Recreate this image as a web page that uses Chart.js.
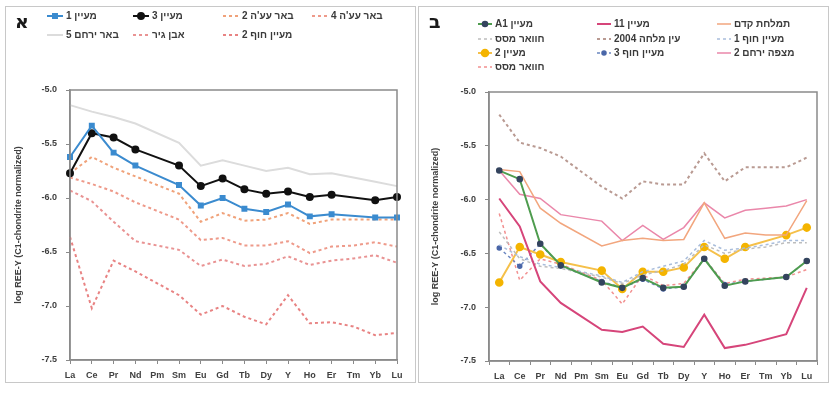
<!DOCTYPE html>
<html><head><meta charset="utf-8">
<script src="https://cdn.jsdelivr.net/npm/chart.js@4/dist/chart.umd.min.js"></script>
<style>
html,body{margin:0;padding:0;background:#fff;width:832px;height:393px;overflow:hidden;}
.panel{position:absolute;border:1px solid #c8c8c8;box-sizing:border-box;background:#fff;}
#pA{left:5px;top:6px;width:411px;height:377px;}
#pB{left:418px;top:6px;width:411px;height:377px;}
canvas{position:absolute;left:0;top:0;}
.tag{position:absolute;font:bold 19px "DejaVu Sans","Liberation Sans",sans-serif;color:#1a1a1a;line-height:1;}
</style></head>
<body>
<div class="panel" id="pA"><canvas id="cA" width="409" height="375"></canvas></div>
<div class="panel" id="pB"><canvas id="cB" width="409" height="375"></canvas></div>
<div class="tag" style="left:15px;top:12px;">א</div>
<div class="tag" style="left:429px;top:12px;">ב</div>
<script>
// ---------- data ----------
const categories = ['La','Ce','Pr','Nd','Pm','Sm','Eu','Gd','Tb','Dy','Y','Ho','Er','Tm','Yb','Lu'];
const yTicks = [-5.0,-5.5,-6.0,-6.5,-7.0,-7.5];
const yTitle = 'log REE-Y (C1-chondrite normalized)';

// panel A
const labelsA = ['מעיין 1','מעיין 3',"באר עע'ה 2","באר עע'ה 4",'באר ירחם 5','אבן גיר','מעיין חוף 2'];
const spring1   = [-5.62,-5.33,-5.58,-5.70,null,-5.88,-6.07,-6.00,-6.10,-6.13,-6.06,-6.17,-6.15,null,-6.18,-6.18];
const spring3   = [-5.77,-5.40,-5.44,-5.55,null,-5.70,-5.89,-5.82,-5.92,-5.96,-5.94,-5.99,-5.97,null,-6.02,-5.99];
const well2     = [-5.77,-5.62,-5.72,-5.80,null,-5.96,-6.22,-6.14,-6.21,-6.20,-6.14,-6.24,-6.20,-6.20,-6.20,-6.20];
const well4     = [-5.81,-5.87,-5.94,-6.04,null,-6.20,-6.39,-6.37,-6.44,-6.44,-6.40,-6.51,-6.45,-6.44,-6.41,-6.45];
const yeruham5  = [-5.14,-5.20,-5.25,-5.31,null,-5.49,-5.70,-5.65,-5.70,-5.75,-5.72,-5.78,-5.77,-5.81,-5.85,-5.89];
const limestone = [-5.93,-6.03,-6.22,-6.40,null,-6.48,-6.63,-6.57,-6.63,-6.61,-6.54,-6.62,-6.58,-6.56,-6.53,-6.60];
const shore2    = [-6.36,-7.02,-6.58,-6.68,null,-6.90,-7.08,-7.00,-7.10,-7.17,-6.90,-7.16,-7.15,-7.19,-7.27,-7.25];

// panel B
const labelsB = ['מעיין A1','מעיין 11','תמלחת קדם','חוואר מסס','עין מלחה 2004','מעיין חוף 1','מעיין 2','מעיין חוף 3','מצפה ירחם 2','חוואר מסס'];
const springA1   = [-5.73,-5.81,-6.41,-6.61,null,-6.77,-6.82,-6.73,-6.82,-6.81,-6.55,-6.80,-6.76,null,-6.72,-6.57];
const spring11   = [-5.99,-6.25,-6.76,-6.96,null,-7.21,-7.23,-7.18,-7.34,-7.37,-7.07,-7.38,-7.35,null,-7.25,-6.82];
const brineKedem = [-5.72,-5.74,-6.08,-6.22,null,-6.43,-6.38,-6.36,-6.38,-6.37,-6.03,-6.36,-6.31,-6.33,-6.33,-6.01];
const marlA      = [-6.30,-6.55,-6.62,-6.64,null,-6.72,-6.78,-6.70,-6.66,-6.60,-6.42,-6.50,-6.46,-6.44,-6.40,-6.40];
const einMelha   = [-5.21,-5.47,-5.52,-5.60,null,-5.88,-5.99,-5.83,-5.86,-5.86,-5.57,-5.83,-5.70,-5.70,-5.70,-5.61];
const shore1     = [-6.42,-6.53,-6.60,-6.63,null,-6.71,-6.77,-6.67,-6.62,-6.57,-6.38,-6.47,-6.45,-6.42,-6.38,-6.38];
const spring2    = [-6.77,-6.44,-6.51,-6.58,null,-6.66,-6.83,-6.67,-6.67,-6.63,-6.44,-6.55,-6.44,null,-6.33,-6.26];
const shore3     = [-6.45,-6.62,-6.41,-6.62,null,-6.76,-6.82,-6.74,-6.83,-6.81,-6.55,-6.79,-6.76,null,-6.72,-6.57];
const mitzpe2    = [-5.73,-5.95,-5.99,-6.14,null,-6.20,-6.38,-6.24,-6.37,-6.26,-6.03,-6.17,-6.10,-6.08,-6.06,-6.00];
const marlB      = [-6.13,-6.75,-6.55,-6.60,null,-6.75,-6.97,-6.70,-6.80,-6.78,-6.55,-6.78,-6.74,-6.73,-6.72,-6.65];

// ---------- plugins ----------
const frame = {
  id:'frame',
  afterDatasetsDraw(chart){
    const {ctx, chartArea:a} = chart;
    ctx.save(); ctx.strokeStyle='#8a8a8a'; ctx.lineWidth=1.5;
    ctx.strokeRect(a.left, a.top, a.right-a.left, a.bottom-a.top);
    ctx.restore();
  }
};
const gridLegend = {
  id:'gridLegend',
  afterDraw(chart, args, o){
    const ctx = chart.ctx;
    chart.data.datasets.forEach((ds,i)=>{
      const p = o.items[i]; if(!p) return;
      const x = p[0], y = p[1];
      ctx.save();
      ctx.strokeStyle = ds.borderColor; ctx.lineWidth = ds.borderWidth;
      ctx.setLineDash(ds.borderDash || []);
      ctx.beginPath(); ctx.moveTo(x, y); ctx.lineTo(x+o.symW, y); ctx.stroke();
      ctx.setLineDash([]);
      if (ds.pointRadius > 0) {
        ctx.fillStyle = ds.pointBackgroundColor; ctx.strokeStyle = ds.pointBorderColor;
        Chart.helpers.drawPoint(ctx, {pointStyle: ds.pointStyle||'circle', radius: ds.pointRadius, rotation:0, borderWidth:1}, x+o.symW/2, y);
      }
      ctx.fillStyle = '#3a3a3a'; ctx.font = o.font; ctx.direction='rtl';
      ctx.textAlign='left'; ctx.textBaseline='middle';
      ctx.fillText(ds.label, x+o.symW+o.gap, y+0.5);
      ctx.restore();
    });
  }
};

function line(label, data, color, width, dash, pr, ps, pcol){
  return {label, data, borderColor:color, borderWidth:width, borderDash:dash||[],
    pointRadius:pr||0, pointHoverRadius:pr||0, pointStyle:ps||'circle',
    pointBackgroundColor:pcol||color, pointBorderColor:pcol||color,
    fill:false, tension:0, spanGaps:true};
}

function opts(pad, yW, xH, xOffset, legendItems, symW, titlePad){
  return {
    responsive:false, animation:false, devicePixelRatio:1,
    layout:{padding:pad},
    plugins:{legend:{display:false}, tooltip:{enabled:false},
      gridLegend:{items:legendItems, symW:symW, gap:3, font:'bold 10px "Liberation Sans", "DejaVu Sans", sans-serif'}},
    scales:{
      x:{type:'category', offset:xOffset,
        grid:{display:true, drawOnChartArea:false, drawTicks:true, tickLength:4, color:'#8a8a8a', offset:xOffset},
        border:{display:true, color:'#8a8a8a', width:1.5},
        ticks:{color:'#404040', font:{family:'"Liberation Sans", sans-serif', size:9, weight:'bold'}, padding:6, maxRotation:0, autoSkip:false},
        afterFit(s){ s.height = xH; }
      },
      y:{min:-7.5, max:-5.0,
        afterBuildTicks(s){ s.ticks = yTicks.map(v=>({value:v})); },
        grid:{display:true, drawOnChartArea:false, drawTicks:true, tickLength:4, color:'#8a8a8a'},
        border:{display:true, color:'#8a8a8a', width:1.5},
        ticks:{color:'#404040', font:{family:'"Liberation Sans", sans-serif', size:9, weight:'bold'}, padding:9,
          callback:v=>v.toFixed(1)},
        title:{display:true, text:yTitle, color:'#404040', font:{family:'"Liberation Sans", sans-serif', size:9, weight:'bold'}, padding:titlePad},
        afterFit(s){ s.width = yW; }
      }
    }
  };
}

const dsA = [
  line(labelsA[0], spring1, '#3b8bcf', 2, [], 2.8, 'rect', '#3b8bcf'),
  line(labelsA[1], spring3, '#111111', 2, [], 3, 'circle', '#111111'),
  line(labelsA[2], well2, '#f0a27a', 2, [3,3]),
  line(labelsA[3], well4, '#ee9a8a', 2, [3,3]),
  line(labelsA[4], yeruham5, '#dcdcdc', 2, []),
  line(labelsA[5], limestone, '#e99393', 2, [3,3]),
  line(labelsA[6], shore2, '#e88383', 2, [3,3]),
];
const dsB = [
  line(labelsB[0], springA1, '#4e9c4e', 2, [], 2.3, 'circle', '#34445e'),
  line(labelsB[1], spring11, '#d6457a', 2, []),
  line(labelsB[2], brineKedem, '#f2a67e', 1.5, []),
  line(labelsB[3], marlA, '#bdbdbd', 1.5, [3,3]),
  line(labelsB[4], einMelha, '#b99a92', 2, [3,3]),
  line(labelsB[5], shore1, '#a9bddb', 1.5, [3,3]),
  line(labelsB[6], spring2, '#f5c04a', 2, [], 3.3, 'circle', '#f4b400'),
  line(labelsB[7], shore3, '#6a86c0', 1.5, [3,3], 2, 'circle', '#4a66a8'),
  line(labelsB[8], mitzpe2, '#ea87aa', 1.5, []),
  line(labelsB[9], marlB, '#f29090', 1.5, [3,3]),
];

const legA = [[41,9],[127,9],[217,9],[306,9],[41,28],[127,28],[217,28]];
const legB = [[59,17],[178,17],[298,17],[59,32],[178,32],[298,32],[59,46],[178,46],[298,46],[59,60]];

new Chart(document.getElementById('cA'), {type:'line', data:{labels:categories, datasets:dsA},
  options:opts({left:0,right:18,top:83,bottom:0}, 64, 22, false, legA, 16, {top:7,bottom:0}), plugins:[frame, gridLegend]});
new Chart(document.getElementById('cB'), {type:'line', data:{labels:categories, datasets:dsB},
  options:opts({left:0,right:11,top:85,bottom:0}, 70, 21, true, legB, 14, {top:11,bottom:0}), plugins:[frame, gridLegend]});
</script>
</body></html>
